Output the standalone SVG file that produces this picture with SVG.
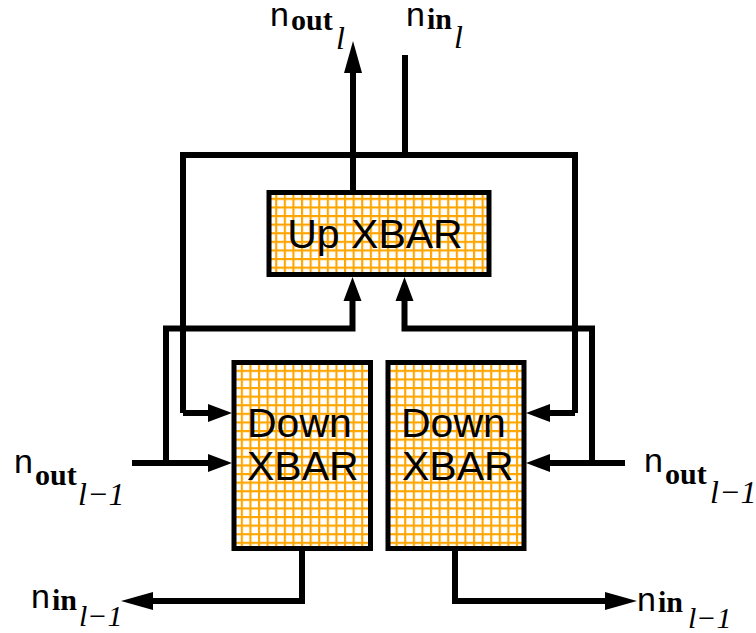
<svg xmlns="http://www.w3.org/2000/svg" width="756" height="633" viewBox="0 0 756 633">
<style>
.box{stroke:#000;stroke-width:5;}
.w{fill:none;stroke:#000;stroke-width:6;stroke-linejoin:miter;stroke-linecap:butt;}
.lbl{font-family:"Liberation Sans",Arial,sans-serif;font-size:41px;fill:#000;}
.n{font-family:"Liberation Sans",Arial,sans-serif;font-size:34px;fill:#000;}
.b{font-family:"Liberation Serif","Times New Roman",serif;font-weight:bold;font-size:30px;fill:#000;}
.i{font-family:"Liberation Serif","Times New Roman",serif;font-style:italic;font-size:32px;fill:#000;}
.s{font-size:30px;}
</style>
<defs>
<pattern id="grid" patternUnits="userSpaceOnUse" width="8.6" height="8.6">
<rect width="8.6" height="8.6" fill="#fff"/>
<path d="M1,0V8.6M0,1H8.6" stroke="#FFA500" stroke-width="2.2"/>
</pattern>
<marker id="ah" markerUnits="userSpaceOnUse" markerWidth="26" markerHeight="20" refX="0" refY="9" orient="auto" overflow="visible">
<path d="M0,0L24,9L0,18z" fill="#000"/>
</marker>
<marker id="ahl" markerUnits="userSpaceOnUse" markerWidth="34" markerHeight="20" refX="0" refY="9" orient="auto" overflow="visible">
<path d="M0,0L32,9L0,18z" fill="#000"/>
</marker>
</defs>

<g id="connectors">
<path class="w" d="M183,413V155H575V413"/>
<path class="w" d="M183,413H208" marker-end="url(#ah)"/>
<path class="w" d="M575,413H550" marker-end="url(#ah)"/>
<path class="w" d="M405,55V155"/>
<path class="w" d="M353,192V73" marker-end="url(#ahl)"/>
<path class="w" d="M166,463V328.5H352.5V301" marker-end="url(#ah)"/>
<path class="w" d="M592,463V328.5H404.5V301" marker-end="url(#ah)"/>
<path class="w" d="M132,463H208" marker-end="url(#ah)"/>
<path class="w" d="M625,463H550" marker-end="url(#ah)"/>
<path class="w" d="M302,549V601H153" marker-end="url(#ahl)"/>
<path class="w" d="M455,549V601H605" marker-end="url(#ahl)"/>
</g>

<g id="up-xbar">
<rect class="box" x="269" y="192.5" width="220" height="82" fill="url(#grid)"/>
<text class="lbl" x="375" y="248" text-anchor="middle">Up XBAR</text>
</g>
<g id="down-xbar-left">
<rect class="box" x="234" y="362.5" width="136.5" height="186" fill="url(#grid)"/>
<text class="lbl" x="247" y="437">Down</text>
<text class="lbl" x="247" y="480">XBAR</text>
</g>
<g id="down-xbar-right">
<rect class="box" x="388" y="362.5" width="136" height="186" fill="url(#grid)"/>
<text class="lbl" x="401" y="437">Down</text>
<text class="lbl" x="402" y="480">XBAR</text>
</g>

<g id="label-nout-top">
<text class="n" x="270" y="26">n</text>
<text class="b" x="291" y="30">out</text>
<text class="i" x="336" y="49">l</text>
</g>
<g id="label-nin-top">
<text class="n" x="406" y="26">n</text>
<text class="b" x="427" y="29">in</text>
<text class="i" x="454" y="48">l</text>
</g>
<g id="label-nout-left">
<text class="n" x="14" y="473">n</text>
<text class="b" x="35" y="485">out</text>
<text class="i" x="78" y="505">l−1</text>
</g>
<g id="label-nout-right">
<text class="n" x="644" y="472">n</text>
<text class="b" x="665" y="484">out</text>
<text class="i" x="710" y="503">l−1</text>
</g>
<g id="label-nin-left">
<text class="n" x="31" y="608">n</text>
<text class="b" x="52" y="610">in</text>
<text class="i s" x="79" y="626">l−1</text>
</g>
<g id="label-nin-right">
<text class="n" x="637" y="611">n</text>
<text class="b" x="658" y="612">in</text>
<text class="i s" x="688" y="628">l−1</text>
</g>
</svg>
